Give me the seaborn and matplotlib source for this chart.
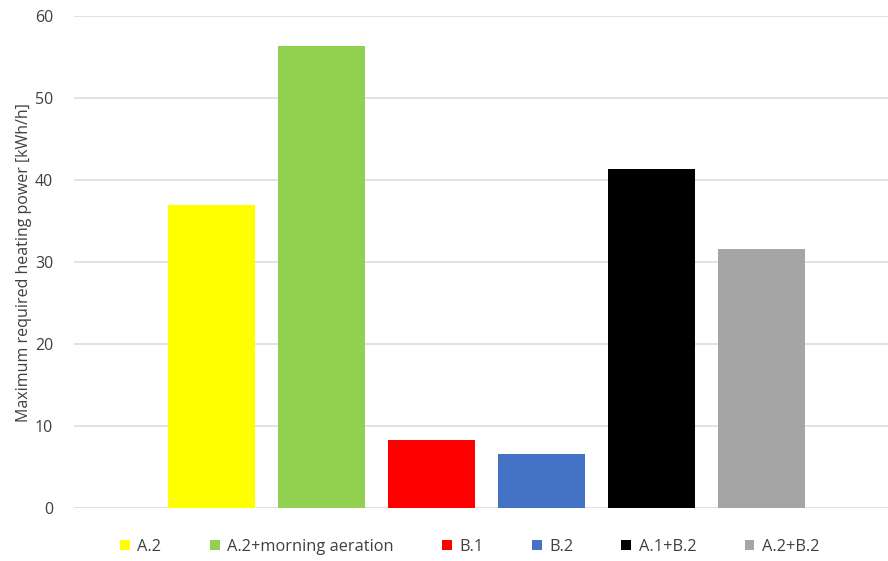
import matplotlib
matplotlib.use("Agg")
import matplotlib.pyplot as plt
import seaborn as sns
import pandas as pd

# Scenario labels and their peak heating demand
scenarios = ["A.2", "A.2+morning aeration", "B.1", "B.2", "A.1+B.2", "A.2+B.2"]
max_power = [37.0, 56.4, 8.3, 6.6, 41.4, 31.6]
colors = ["#FFFF00", "#92D050", "#FF0000", "#4472C4", "#000000", "#A5A5A5"]
y_ticks = [0, 10, 20, 30, 40, 50, 60]

df = pd.DataFrame({"scenario": scenarios, "power": max_power})

sns.set_theme(style="white")
plt.rcParams["font.family"] = ["Open Sans", "DejaVu Sans"]
text_color = "#404040"
fs = 11.5

fig = plt.figure(figsize=(8.88, 5.61), dpi=100)
ax = fig.add_axes([74 / 888, 52.7 / 561, 1 - 74 / 888, 492.3 / 561])

sns.barplot(data=df, x="scenario", y="power", hue="scenario",
            palette=dict(zip(scenarios, colors)), order=scenarios,
            hue_order=scenarios, width=0.79, saturation=1,
            legend=False, ax=ax, edgecolor="none")

ax.set_xlim(-1.253, 6.147)
ax.set_ylim(0, 60)
ax.set_yticks(y_ticks)
ax.set_yticklabels([str(t) for t in y_ticks], fontsize=fs, color=text_color)
ax.set_xticks([])
ax.set_xlabel("")
ax.set_ylabel("Maximum required heating power [kWh/h]", fontsize=fs,
              color=text_color, labelpad=2)
ax.tick_params(axis="y", length=0, pad=15)
ax.yaxis.grid(True, color="#D9D9D9", linewidth=1.1)
ax.set_axisbelow(True)
for s in ax.spines.values():
    s.set_visible(False)

handles = [plt.Rectangle((0, 0), 1, 1, facecolor=c, edgecolor="none") for c in colors]
fig.legend(handles, scenarios, loc="center", bbox_to_anchor=(0.529, 0.025),
           ncol=6, frameon=False, fontsize=11.8, handlelength=0.6,
           handleheight=0.6, handletextpad=0.45, columnspacing=2.95,
           labelcolor=text_color)

fig.savefig("out.png", dpi=100)
